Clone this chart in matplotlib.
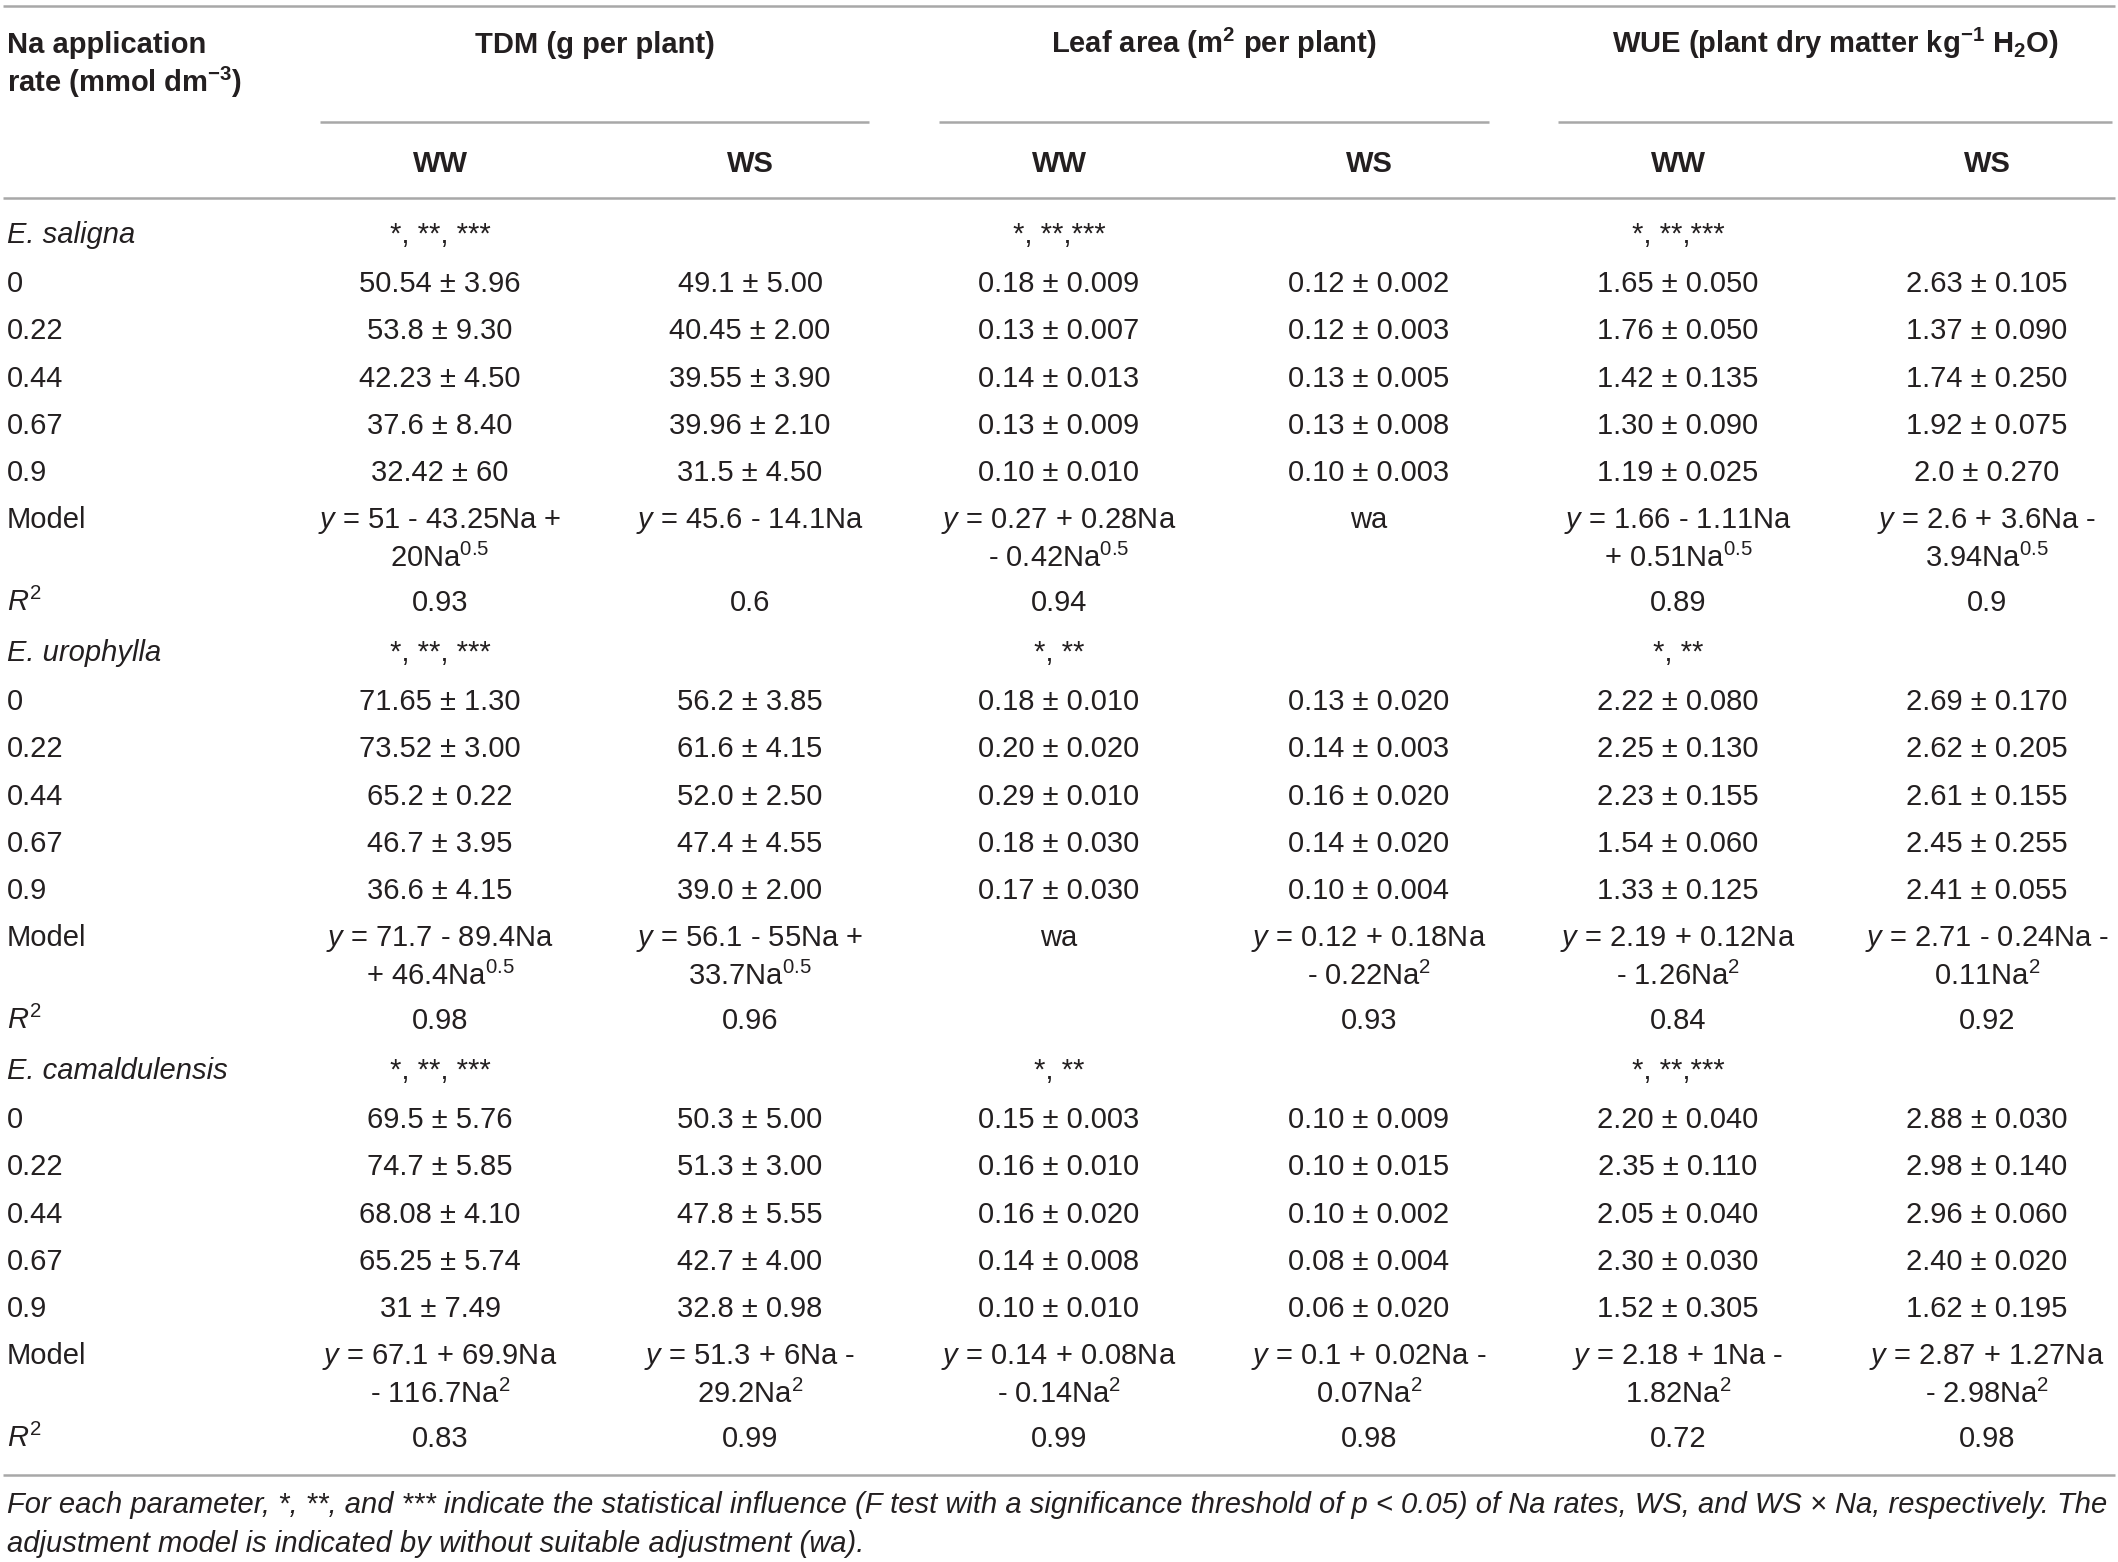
import matplotlib
matplotlib.use("Agg")
import matplotlib.pyplot as plt

plt.rcParams["font.family"] = ["Liberation Sans", "DejaVu Sans"]
plt.rcParams["mathtext.fontset"] = "custom"
plt.rcParams["mathtext.rm"] = "Liberation Sans"
plt.rcParams["mathtext.it"] = "Liberation Sans:italic"
plt.rcParams["mathtext.bf"] = "Liberation Sans:bold"

# table content
groups = ["TDM (g per plant)",
          r"Leaf area (m$^{\mathbf{2}}$ per plant)",
          r"WUE (plant dry matter kg$^{\mathbf{-1}}$ H$_{\mathbf{2}}$O)"]
subheads = ["WW", "WS", "WW", "WS", "WW", "WS"]
rates = ["0", "0.22", "0.44", "0.67", "0.9"]
species = ["E. saligna", "E. urophylla", "E. camaldulensis"]

saligna = [
    ["50.54 ± 3.96", "49.1 ± 5.00", "0.18 ± 0.009", "0.12 ± 0.002", "1.65 ± 0.050", "2.63 ± 0.105"],
    ["53.8 ± 9.30", "40.45 ± 2.00", "0.13 ± 0.007", "0.12 ± 0.003", "1.76 ± 0.050", "1.37 ± 0.090"],
    ["42.23 ± 4.50", "39.55 ± 3.90", "0.14 ± 0.013", "0.13 ± 0.005", "1.42 ± 0.135", "1.74 ± 0.250"],
    ["37.6 ± 8.40", "39.96 ± 2.10", "0.13 ± 0.009", "0.13 ± 0.008", "1.30 ± 0.090", "1.92 ± 0.075"],
    ["32.42 ± 60", "31.5 ± 4.50", "0.10 ± 0.010", "0.10 ± 0.003", "1.19 ± 0.025", "2.0 ± 0.270"],
]
urophylla = [
    ["71.65 ± 1.30", "56.2 ± 3.85", "0.18 ± 0.010", "0.13 ± 0.020", "2.22 ± 0.080", "2.69 ± 0.170"],
    ["73.52 ± 3.00", "61.6 ± 4.15", "0.20 ± 0.020", "0.14 ± 0.003", "2.25 ± 0.130", "2.62 ± 0.205"],
    ["65.2 ± 0.22", "52.0 ± 2.50", "0.29 ± 0.010", "0.16 ± 0.020", "2.23 ± 0.155", "2.61 ± 0.155"],
    ["46.7 ± 3.95", "47.4 ± 4.55", "0.18 ± 0.030", "0.14 ± 0.020", "1.54 ± 0.060", "2.45 ± 0.255"],
    ["36.6 ± 4.15", "39.0 ± 2.00", "0.17 ± 0.030", "0.10 ± 0.004", "1.33 ± 0.125", "2.41 ± 0.055"],
]
camaldulensis = [
    ["69.5 ± 5.76", "50.3 ± 5.00", "0.15 ± 0.003", "0.10 ± 0.009", "2.20 ± 0.040", "2.88 ± 0.030"],
    ["74.7 ± 5.85", "51.3 ± 3.00", "0.16 ± 0.010", "0.10 ± 0.015", "2.35 ± 0.110", "2.98 ± 0.140"],
    ["68.08 ± 4.10", "47.8 ± 5.55", "0.16 ± 0.020", "0.10 ± 0.002", "2.05 ± 0.040", "2.96 ± 0.060"],
    ["65.25 ± 5.74", "42.7 ± 4.00", "0.14 ± 0.008", "0.08 ± 0.004", "2.30 ± 0.030", "2.40 ± 0.020"],
    ["31 ± 7.49", "32.8 ± 0.98", "0.10 ± 0.010", "0.06 ± 0.020", "1.52 ± 0.305", "1.62 ± 0.195"],
]

Y = r"$\mathit{y}$"
H = r"$^{0.5}$"
S = r"$^{2}$"
saligna_model = [Y + " = 51 - 43.25Na +\n20Na" + H, Y + " = 45.6 - 14.1Na",
                 Y + " = 0.27 + 0.28Na\n- 0.42Na" + H, "wa",
                 Y + " = 1.66 - 1.11Na\n+ 0.51Na" + H, Y + " = 2.6 + 3.6Na -\n3.94Na" + H]
urophylla_model = [Y + " = 71.7 - 89.4Na\n+ 46.4Na" + H, Y + " = 56.1 - 55Na +\n33.7Na" + H,
                   "wa", Y + " = 0.12 + 0.18Na\n- 0.22Na" + S,
                   Y + " = 2.19 + 0.12Na\n- 1.26Na" + S, Y + " = 2.71 - 0.24Na -\n0.11Na" + S]
camaldulensis_model = [Y + " = 67.1 + 69.9Na\n- 116.7Na" + S, Y + " = 51.3 + 6Na -\n29.2Na" + S,
                       Y + " = 0.14 + 0.08Na\n- 0.14Na" + S, Y + " = 0.1 + 0.02Na -\n0.07Na" + S,
                       Y + " = 2.18 + 1Na -\n1.82Na" + S, Y + " = 2.87 + 1.27Na\n- 2.98Na" + S]

saligna_r2 = ["0.93", "0.6", "0.94", "", "0.89", "0.9"]
urophylla_r2 = ["0.98", "0.96", "", "0.93", "0.84", "0.92"]
camaldulensis_r2 = ["0.83", "0.99", "0.99", "0.98", "0.72", "0.98"]

saligna_sig = ["*, **, ***", "*, **,***", "*, **,***"]
urophylla_sig = ["*, **, ***", "*, **", "*, **"]
camaldulensis_sig = ["*, **, ***", "*, **", "*, **,***"]

footnote = ["For each parameter, *, **, and *** indicate the statistical influence (F test with a significance threshold of p < 0.05) of Na rates, WS, and WS × Na, respectively. The",
            "adjustment model is indicated by without suitable adjustment (wa)."]

blocks = [(saligna, saligna_model, saligna_r2, saligna_sig),
          (urophylla, urophylla_model, urophylla_r2, urophylla_sig),
          (camaldulensis, camaldulensis_model, camaldulensis_r2, camaldulensis_sig)]

# layout (pixels)
W, Hpx = 2118, 1562
fs = 21
tc = "#231f20"
lc = "#a8a8a8"
col_x = [440, 750, 1059, 1369, 1678, 1987]
grp_x = [595, 1214, 1835]
grp_span = [(320, 869), (939, 1489), (1558, 2112)]
left = 7
base = 10  # baseline offset from row centre

fig = plt.figure(figsize=(W / 100, Hpx / 100), dpi=100)
ax = fig.add_axes([0, 0, 1, 1])
ax.set_xlim(0, W)
ax.set_ylim(Hpx, 0)
ax.axis("off")


def put(x, y, s, ha="center", **kw):
    ax.text(x, y + base, s, ha=ha, va="baseline", fontsize=fs, color=tc, **kw)


# rules
for yy in [6, 198, 1475]:
    ax.plot([3, 2115], [yy, yy], color=lc, lw=1.8, solid_capstyle="butt")
for x0, x1 in grp_span:
    ax.plot([x0, x1], [122, 122], color=lc, lw=1.8, solid_capstyle="butt")

# header
put(left, 43, "Na application", ha="left", fontweight="bold")
put(left, 82, r"rate (mmol dm$^{\mathbf{-3}}$)", ha="left", fontweight="bold")
for gx, g in zip(grp_x, groups):
    put(gx, 43, g, fontweight="bold")
for cx, s in zip(col_x, subheads):
    put(cx, 162, s, fontweight="bold")

# body
y0 = 233
step = 47.3
for name, (vals, models, r2s, sigs) in zip(species, blocks):
    put(left, y0, name, ha="left", style="italic")
    for i, s in enumerate(sigs):
        put(col_x[2 * i], y0, s)
    for k, (rate, row) in enumerate(zip(rates, vals)):
        yy = y0 + 49 + step * k
        put(left, yy, rate, ha="left")
        for cx, v in zip(col_x, row):
            put(cx, yy, v)
    ym = y0 + 285
    put(left, ym, "Model", ha="left")
    for cx, m in zip(col_x, models):
        lines = m.split("\n")
        for j, ln in enumerate(lines):
            put(cx, ym + 39 * j, ln)
    yr = y0 + 368
    put(left, yr, r"$\mathit{R}^{2}$", ha="left")
    for cx, r in zip(col_x, r2s):
        if r:
            put(cx, yr, r)
    y0 += 418

# footnote
put(left, 1503, footnote[0], ha="left", style="italic")
put(left, 1542, footnote[1], ha="left", style="italic")

fig.savefig("out.png", dpi=100, facecolor="white")
